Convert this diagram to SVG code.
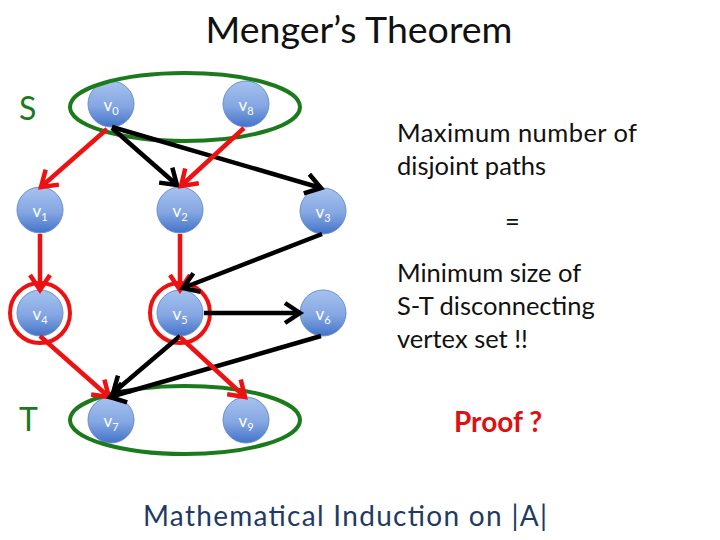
<svg xmlns="http://www.w3.org/2000/svg" width="720" height="540" viewBox="0 0 720 540">
<defs>
<linearGradient id="nodeGrad" x1="0" y1="0" x2="0" y2="1">
<stop offset="0" stop-color="#a6c2ef"/>
<stop offset="0.55" stop-color="#84a6e2"/>
<stop offset="1" stop-color="#4273c8"/>
</linearGradient>
<marker id="arrRed" viewBox="0 0 24 24" markerUnits="userSpaceOnUse" markerWidth="24" markerHeight="24" refX="19" refY="12" orient="auto">
<path d="M4,2 L19,12 L4,22" fill="none" stroke="#ee1111" stroke-width="4.5"/>
</marker>
<marker id="arrBlack" viewBox="0 0 24 24" markerUnits="userSpaceOnUse" markerWidth="24" markerHeight="24" refX="19" refY="12" orient="auto">
<path d="M4,2 L19,12 L4,22" fill="none" stroke="#000000" stroke-width="4.5"/>
</marker>
</defs>
<style>
.node circle{fill:url(#nodeGrad);stroke:#6a8ed0;stroke-width:1}
.node text{font-family:Lato,"Open Sans","Liberation Sans",sans-serif;fill:#ffffff;font-size:17px;text-anchor:middle}
.sub{font-size:11px}
.red{stroke:#ee1111;stroke-width:4.5;fill:none;marker-end:url(#arrRed)}
.blk{stroke:#000000;stroke-width:4.5;fill:none;marker-end:url(#arrBlack)}
.set{fill:none;stroke:#1b7a1b;stroke-width:4}
.cut{fill:none;stroke:#ee1111;stroke-width:4}
.body{font-family:Lato,"Open Sans","Liberation Sans",sans-serif;font-size:25.5px;fill:#111111}
.lbl{font-family:Lato,"Open Sans","Liberation Sans",sans-serif;font-size:32px;fill:#1b7a1b}
</style>
<rect width="720" height="540" fill="#ffffff"/>
<text x="359" y="43" text-anchor="middle" font-family="Lato,'Open Sans','Liberation Sans',sans-serif" font-size="37.5" fill="#111111">Menger’s Theorem</text>
<g id="label-S"><text class="lbl" x="19" y="120">S</text></g>
<g id="label-T"><text class="lbl" x="19" y="431">T</text></g>
<g id="v0" class="node"><circle cx="111" cy="104" r="23"/><text x="111" y="111">v<tspan class="sub" dy="4">0</tspan></text></g>
<g id="v8" class="node"><circle cx="246" cy="104" r="23"/><text x="246" y="111">v<tspan class="sub" dy="4">8</tspan></text></g>
<g id="v1" class="node"><circle cx="40" cy="210" r="23"/><text x="40" y="217">v<tspan class="sub" dy="4">1</tspan></text></g>
<g id="v2" class="node"><circle cx="180" cy="210" r="23"/><text x="180" y="217">v<tspan class="sub" dy="4">2</tspan></text></g>
<g id="v3" class="node"><circle cx="323" cy="211" r="23"/><text x="323" y="218">v<tspan class="sub" dy="4">3</tspan></text></g>
<g id="v4" class="node"><circle cx="40" cy="313" r="23"/><text x="40" y="320">v<tspan class="sub" dy="4">4</tspan></text></g>
<g id="v5" class="node"><circle cx="180" cy="313" r="23"/><text x="180" y="320">v<tspan class="sub" dy="4">5</tspan></text></g>
<g id="v6" class="node"><circle cx="323" cy="313" r="23"/><text x="323" y="320">v<tspan class="sub" dy="4">6</tspan></text></g>
<g id="v7" class="node"><circle cx="111" cy="420" r="23"/><text x="111" y="427">v<tspan class="sub" dy="4">7</tspan></text></g>
<g id="v9" class="node"><circle cx="246" cy="420" r="23"/><text x="246" y="427">v<tspan class="sub" dy="4">9</tspan></text></g>
<g id="sets">
<ellipse class="set" cx="185" cy="107" rx="115" ry="34"/>
<ellipse class="set" cx="185" cy="420" rx="115" ry="34"/>
<circle class="cut" cx="40" cy="313" r="30"/>
<circle class="cut" cx="180" cy="313" r="30"/>
</g>
<g id="connectors">
<line class="red" x1="107" y1="129" x2="41" y2="187"/>
<line class="blk" x1="112" y1="128" x2="177" y2="185"/>
<line class="blk" x1="112" y1="127" x2="321" y2="188"/>
<line class="red" x1="244" y1="128" x2="181" y2="186"/>
<line class="red" x1="40" y1="234" x2="40" y2="290"/>
<line class="red" x1="180" y1="234" x2="180" y2="290"/>
<line class="blk" x1="322" y1="234" x2="183" y2="288"/>
<line class="blk" x1="204" y1="313" x2="300" y2="313"/>
<line class="red" x1="40" y1="336" x2="109" y2="397"/>
<line class="blk" x1="180" y1="336" x2="113" y2="393"/>
<line class="blk" x1="321" y1="336" x2="110" y2="397"/>
<line class="red" x1="180" y1="337" x2="245" y2="397"/>
</g>
<g id="notes">
<text class="body" x="397" y="142" textLength="240" lengthAdjust="spacing">Maximum number of</text>
<text class="body" x="397" y="175">disjoint paths</text>
<text class="body" x="505" y="231">=</text>
<text class="body" x="397" y="282">Minimum size of</text>
<text class="body" x="397" y="315">S-T disconnecting</text>
<text class="body" x="397" y="348">vertex set !!</text>
<text x="454" y="432" font-family="Lato,'Open Sans','Liberation Sans',sans-serif" font-size="28" font-weight="bold" fill="#dd1111">Proof ?</text>
<text x="143" y="526" font-family="Lato,'Open Sans','Liberation Sans',sans-serif" font-size="28" fill="#1f3b63" textLength="404" lengthAdjust="spacing">Mathematical Induction on |A|</text>
</g>
</svg>
